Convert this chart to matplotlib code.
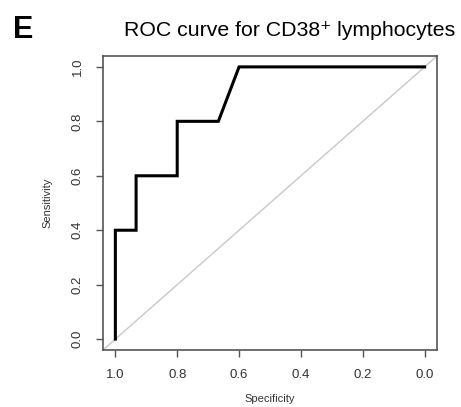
import matplotlib
matplotlib.use("Agg")
import matplotlib.pyplot as plt

specificity = [1.0, 1.0, 0.933, 0.933, 0.8, 0.8, 0.667, 0.6, 0.0]
sensitivity = [0.0, 0.4, 0.4, 0.6, 0.6, 0.8, 0.8, 1.0, 1.0]
tick_values = [1.0, 0.8, 0.6, 0.4, 0.2, 0.0]
tick_labels = ["1.0", "0.8", "0.6", "0.4", "0.2", "0.0"]
ytick_values = [0.0, 0.2, 0.4, 0.6, 0.8, 1.0]
ytick_labels = ["0.0", "0.2", "0.4", "0.6", "0.8", "1.0"]

plt.rcParams['font.family'] = ['Liberation Sans', 'DejaVu Sans']

W, H = 461, 407
fig = plt.figure(figsize=(W / 100, H / 100), dpi=100)
left, right, top, bottom = 103, 437, 56, 350
ax = fig.add_axes([left / W, 1 - bottom / H, (right - left) / W, (bottom - top) / H])

ax.set_xlim(1.04, -0.04)
ax.set_ylim(-0.04, 1.04)

ax.axline((1.0, 0.0), (0.0, 1.0), color="#c8c8c8", lw=1.0, zorder=1)
ax.plot(specificity, sensitivity, color="black", lw=2.2, solid_joinstyle="miter", zorder=2)

ax.set_xticks(tick_values)
ax.set_xticklabels(tick_labels, fontsize=9.5, color="#333333")
ax.set_yticks(ytick_values)
ax.set_yticklabels(ytick_labels, fontsize=9.5, color="#333333", rotation=90, va="center")
ax.tick_params(direction="out", length=5, width=1, color="#555555")
ax.tick_params(axis="x", pad=9)
ax.tick_params(axis="y", pad=9)
for s in ax.spines.values():
    s.set_color("#555555")
    s.set_linewidth(1.2)

ax.set_xlabel("Specificity", fontsize=8, color="#333333", labelpad=9)
ax.set_ylabel("Sensitivity", fontsize=8, color="#333333", labelpad=14)

fig.text(290 / W, 1 - 31 / H, "ROC curve for CD38\u207a lymphocytes", ha="center", va="center",
         fontsize=15.3, color="black")
fig.text(13 / W, 1 - 30 / H, "E", ha="left", va="center", fontsize=22, fontweight="bold", color="black")

fig.savefig("out.png", dpi=100)
